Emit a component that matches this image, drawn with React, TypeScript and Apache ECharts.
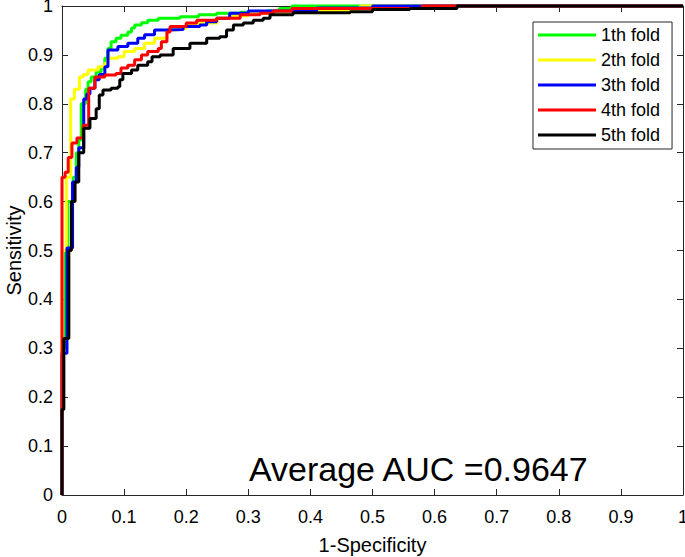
import React, { useEffect, useRef } from "react";
import * as echarts from "echarts";

// ROC risers: [fpr, tpr at top of each vertical step]
const fold1: number[][] = [
  [0, 0], [0, 0.3], [0.005, 0.5], [0.009, 0.6], [0.018, 0.65], [0.023, 0.7], [0.027, 0.726], [0.031, 0.8],
  [0.038, 0.83], [0.042, 0.845], [0.047, 0.855], [0.055, 0.865], [0.063, 0.873], [0.069, 0.893],
  [0.074, 0.913], [0.079, 0.927], [0.087, 0.934], [0.095, 0.94], [0.106, 0.947], [0.112, 0.955],
  [0.117, 0.961], [0.128, 0.966], [0.138, 0.971], [0.155, 0.975], [0.19, 0.978], [0.22, 0.982],
  [0.249, 0.985], [0.287, 0.987], [0.33, 0.99], [0.35, 0.995], [0.37, 1], [1, 1],
];
const fold2: number[][] = [
  [0, 0], [0, 0.5], [0.007, 0.65], [0.014, 0.81], [0.02, 0.83], [0.028, 0.855], [0.034, 0.86],
  [0.042, 0.869], [0.058, 0.876], [0.069, 0.883], [0.074, 0.893], [0.09, 0.896], [0.1, 0.907],
  [0.117, 0.913], [0.133, 0.924], [0.149, 0.934], [0.169, 0.951], [0.185, 0.954], [0.2, 0.96],
  [0.22, 0.965], [0.25, 0.975], [0.27, 0.98], [0.3, 0.985], [0.37, 0.99], [0.48, 1], [1, 1],
];
const fold3: number[][] = [
  [0, 0], [0, 0.29], [0.008, 0.505], [0.017, 0.64], [0.023, 0.67], [0.027, 0.71], [0.035, 0.81],
  [0.04, 0.82], [0.045, 0.832], [0.053, 0.849], [0.06, 0.86], [0.069, 0.876], [0.074, 0.91],
  [0.09, 0.917], [0.106, 0.924], [0.122, 0.934], [0.133, 0.941], [0.149, 0.951], [0.17, 0.952],
  [0.195, 0.958], [0.222, 0.961], [0.233, 0.968], [0.249, 0.975], [0.27, 0.985], [0.3, 0.99],
  [0.41, 0.996], [0.5, 1], [1, 1],
];
const fold4: number[][] = [
  [0, 0], [0, 0.65], [0.005, 0.66], [0.01, 0.69], [0.016, 0.72], [0.024, 0.73], [0.034, 0.756],
  [0.043, 0.832], [0.053, 0.855], [0.069, 0.859], [0.087, 0.862], [0.095, 0.873], [0.106, 0.879],
  [0.117, 0.89], [0.128, 0.9], [0.138, 0.907], [0.155, 0.913], [0.16, 0.927], [0.169, 0.947],
  [0.174, 0.958], [0.2, 0.965], [0.217, 0.971], [0.249, 0.975], [0.287, 0.982], [0.319, 0.985],
  [0.34, 0.99], [0.37, 0.995], [0.58, 1], [1, 1],
];
const fold5: number[][] = [
  [0, 0], [0, 0.175], [0.003, 0.32], [0.011, 0.5], [0.015, 0.6], [0.021, 0.64], [0.027, 0.7],
  [0.035, 0.75], [0.045, 0.77], [0.055, 0.79], [0.06, 0.818], [0.066, 0.828], [0.079, 0.832],
  [0.09, 0.835], [0.093, 0.849], [0.098, 0.862], [0.112, 0.869], [0.122, 0.879], [0.138, 0.886],
  [0.145, 0.896], [0.158, 0.9], [0.179, 0.913], [0.206, 0.924], [0.233, 0.934], [0.254, 0.937],
  [0.265, 0.951], [0.276, 0.961], [0.292, 0.965], [0.308, 0.971], [0.324, 0.975], [0.335, 0.982],
  [0.372, 0.986], [0.464, 0.988], [0.5, 0.993], [0.56, 0.995], [0.636, 1], [1, 1],
];

const foldNames = ["1th fold", "2th fold", "3th fold", "4th fold", "5th fold"];
const foldColors = ["#00ff00", "#ffff00", "#0000ff", "#ff0000", "#000000"];
const foldData = [fold1, fold2, fold3, fold4, fold5];
const tickValues = [0, 0.1, 0.2, 0.3, 0.4, 0.5, 0.6, 0.7, 0.8, 0.9, 1];
const aucText = "Average AUC =0.9647";

function toStairs(risers: number[][]): number[][] {
  const out: number[][] = [];
  risers.forEach((p, i) => {
    if (i === 0) {
      out.push([p[0], p[1]]);
    } else {
      const prevY = risers[i - 1][1];
      out.push([p[0], prevY]);
      out.push([p[0], p[1]]);
    }
  });
  return out;
}

const FONT = "'Liberation Sans', Arial, Helvetica, sans-serif";
const AX = "#262626";

function fmt(v: number) {
  const r = Math.round(v * 10) / 10;
  return tickValues.includes(r) ? String(r) : "";
}

export default function App() {
  const ref = useRef<HTMLDivElement>(null);
  useEffect(() => {
    if (!ref.current) return;
    const chart = echarts.init(ref.current, undefined, { renderer: "svg" });
    const baseAxis = {
      type: "value" as const,
      min: 0,
      max: 1,
      interval: 0.1,
      splitLine: { show: false },
      axisLine: { show: true, onZero: false, lineStyle: { color: AX, width: 1 } },
      axisTick: { show: true, inside: true, length: 6, lineStyle: { color: AX, width: 1 } },
    };
    chart.setOption({
      animation: false,
      backgroundColor: "#ffffff",
      grid: { left: 62, right: 2, top: 6, bottom: 62, containLabel: false, outerBoundsMode: "none" },
      xAxis: [
        {
          ...baseAxis,
          position: "bottom",
          name: "1-Specificity",
          nameLocation: "middle",
          nameGap: 40,
          nameTextStyle: { fontFamily: FONT, fontSize: 20, color: "#000" },
          axisLabel: { fontFamily: FONT, fontSize: 18, color: "#000", margin: 13, formatter: fmt },
        },
        {
          ...baseAxis,
          position: "top",
          axisLabel: { show: false },
        },
      ],
      yAxis: [
        {
          ...baseAxis,
          position: "left",
          name: "Sensitivity",
          nameLocation: "middle",
          nameGap: 38,
          nameMoveOverlap: false,
          nameTextStyle: { fontFamily: FONT, fontSize: 20, color: "#000" },
          axisLabel: { fontFamily: FONT, fontSize: 18, color: "#000", margin: 9, formatter: fmt },
        },
        {
          ...baseAxis,
          position: "right",
          axisLabel: { show: false },
        },
      ],
      legend: {
        orient: "vertical",
        left: 533,
        top: 22,
        width: 139,
        padding: [4, 12, 5, 5],
        itemGap: 7,
        itemWidth: 58,
        itemHeight: 3,
        icon: "rect",
        backgroundColor: "#ffffff",
        borderColor: AX,
        borderWidth: 1,
        textStyle: { fontFamily: FONT, fontSize: 18, color: "#000", lineHeight: 18, padding: [0, 0, 0, 0] },
        data: foldNames,
      },
      graphic: [
        {
          type: "text",
          left: 249,
          top: 452,
          style: { text: aucText, font: `34px ${FONT}`, fill: "#000" },
          z: 10,
        },
      ],
      series: foldData.map((d, i) => ({
        name: foldNames[i],
        type: "line",
        data: toStairs(d),
        symbol: "none",
        showSymbol: false,
        clip: false,
        color: foldColors[i],
        lineStyle: { color: foldColors[i], width: 3 },
        itemStyle: { color: foldColors[i] },
        z: 2 + i,
      })),
    });
    return () => chart.dispose();
  }, []);
  return (
    <div
      ref={ref}
      style={{ position: "fixed", left: 0, top: 0, width: 685, height: 557 }}
    />
  );
}
